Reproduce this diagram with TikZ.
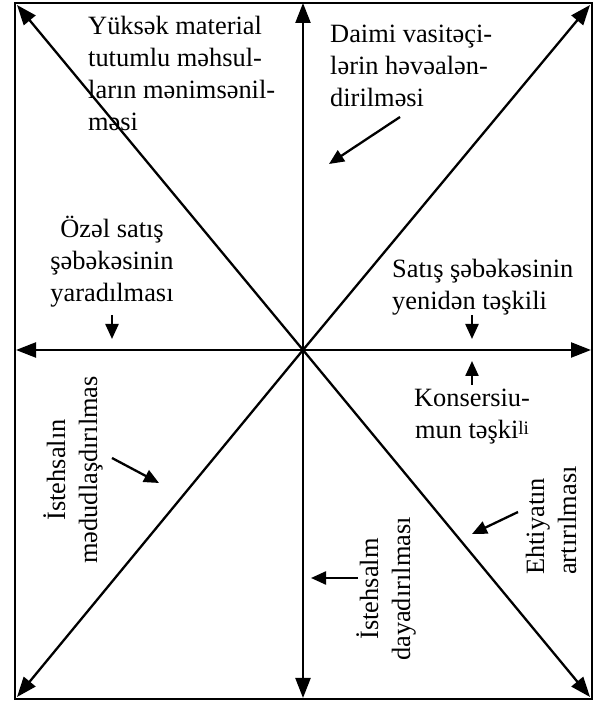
\documentclass[tikz,border=0pt]{standalone}
\usepackage{fontspec}
\setmainfont{Liberation Serif}
\usetikzlibrary{arrows.meta}
\newcommand\lblfont{\fontsize{26.4}{32}\selectfont}
\newcommand\txtblock[2]{\begin{tabular}[t]{@{}#1@{}}#2\end{tabular}}
\begin{document}
\begin{tikzpicture}[x=1pt,y=1pt,
  frame/.style={line width=1.6pt},
  ray/.style={line width=2.3pt,-{Triangle[length=20pt,width=15pt]}},
  pointer/.style={line width=2.3pt,-{Triangle[length=15pt,width=13pt]}},
  lbl/.style={inner sep=0pt,font=\lblfont}]
\useasboundingbox (0,0) rectangle (601,701);
\draw[frame] (15,2) rectangle (592,698);

% centre and the ends of the eight rays
\coordinate (O)  at (303,351);
\coordinate (N)  at (303,698);
\coordinate (S)  at (303,3);
\coordinate (W)  at (16,351);
\coordinate (E)  at (591,351);
\coordinate (NW) at (17,696);
\coordinate (NE) at (590,696);
\coordinate (SW) at (17,4);
\coordinate (SE) at (590,4);
\foreach \t in {N,S,W,E,NW,NE,SW,SE} \draw[ray] (O) -- (\t);

% labels
\node[lbl,anchor=base west] (tl) at (88,666)
  {\txtblock{l}{Yüksək material\\ tutumlu məhsul-\\ ların mənimsənil-\\ məsi}};
\node[lbl,anchor=base west] (tr) at (330,658)
  {\txtblock{l}{Daimi vasitəçi-\\ lərin həvəalən-\\ dirilməsi}};
\node[lbl,anchor=base] (ozel) at (112,463)
  {\txtblock{c}{Özəl satış\\ şəbəkəsinin\\ yaradılması}};
\node[lbl,anchor=base west] (satis) at (392,423)
  {\txtblock{l}{Satış şəbəkəsinin\\ yenidən təşkili}};
\node[lbl,anchor=base] (kons) at (472,294)
  {\txtblock{c}{Konsersiu-\\ mun təşki\raisebox{4pt}{\fontsize{19}{19}\selectfont li}}};
\node[lbl,anchor=base west,rotate=90] (ehti) at (544,126)
  {\txtblock{l}{Ehtiyatın\\ artırılması}};
\node[lbl,anchor=base,rotate=90] (dayan) at (378,112)
  {\txtblock{c}{İstehsalm\\ dayadırılması}};
\node[lbl,anchor=base,rotate=90] (mehd) at (65,231)
  {\txtblock{c}{İstehsalın\\ mədudlaşdırılmas}};

% short pointers
\coordinate (p1a) at (400,584); \coordinate (p1b) at (329,537);
\coordinate (p2a) at (112,386); \coordinate (p2b) at (112,362);
\coordinate (p3a) at (472,386); \coordinate (p3b) at (472,362);
\coordinate (p4a) at (472,316); \coordinate (p4b) at (472,340);
\coordinate (p5a) at (518,189); \coordinate (p5b) at (472,167);
\coordinate (p6a) at (358,123); \coordinate (p6b) at (311,123);
\coordinate (p7a) at (112,243); \coordinate (p7b) at (159,218);
\foreach \k in {1,...,7} \draw[pointer] (p\k a) -- (p\k b);
\end{tikzpicture}
\end{document}
